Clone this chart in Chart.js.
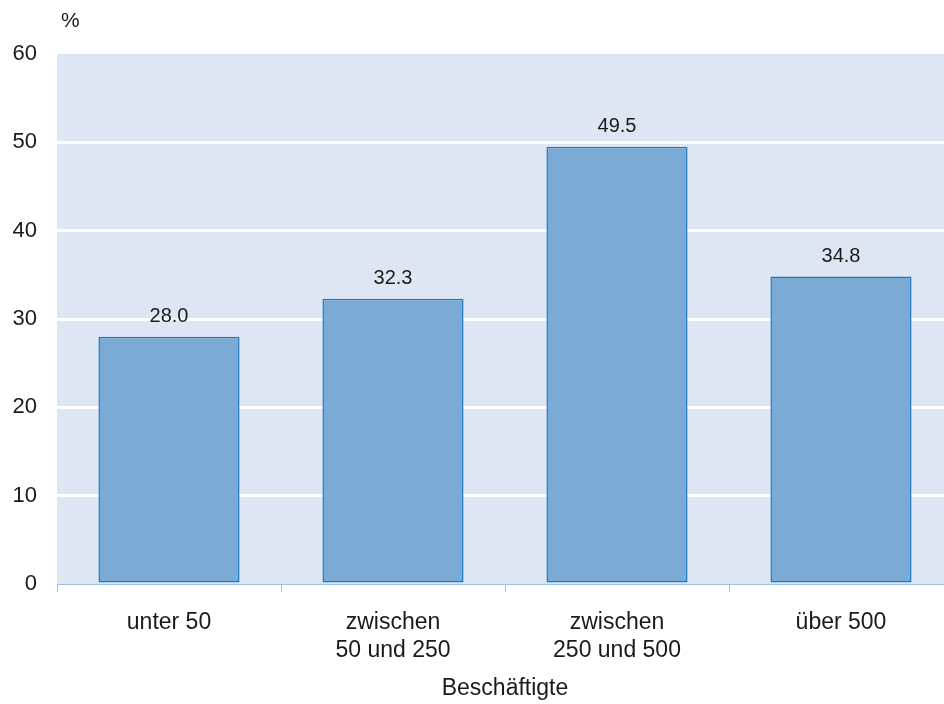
<!DOCTYPE html>
<html>
<head>
<meta charset="utf-8">
<script src="https://cdn.jsdelivr.net/npm/chart.js@4"></script>
<style>
  html, body { margin: 0; padding: 0; background: #fff; overflow: hidden; }
  #wrap { width: 944px; height: 704px; overflow: hidden; }
  canvas { display: block; }
</style>
</head>
<body>
<div id="wrap"><canvas id="chart" width="953" height="704"></canvas></div>
<script>
// data
const categories = [['unter 50'], ['zwischen', '50 und 250'], ['zwischen', '250 und 500'], ['über 500']];
const shares = [28.0, 32.3, 49.5, 34.8];
const yTicks = [0, 10, 20, 30, 40, 50, 60];
const unitLabel = '%';
const xTitle = 'Beschäftigte';

const FONT = "'Liberation Sans', Arial, sans-serif";
const TEXT = '#1a1a1a';

// light blue plot background + unit label
const backdrop = {
    id: 'backdrop',
    beforeDraw(chart) {
        const { ctx, chartArea: a } = chart;
        ctx.save();
        ctx.fillStyle = '#dfe6f3';
        ctx.fillRect(a.left, a.top, a.right - a.left, a.bottom - a.top);
        ctx.restore();
    },
    afterDraw(chart) {
        const { ctx } = chart;
        ctx.save();
        ctx.font = '21px ' + FONT;
        ctx.fillStyle = TEXT;
        ctx.textBaseline = 'middle';
        ctx.textAlign = 'left';
        ctx.fillText(unitLabel, 61, 21);
        ctx.restore();
    }
};

// values above the bars
const valueLabels = {
    id: 'valueLabels',
    afterDatasetsDraw(chart) {
        const { ctx } = chart;
        const meta = chart.getDatasetMeta(0);
        ctx.save();
        ctx.font = '20px ' + FONT;
        ctx.fillStyle = TEXT;
        ctx.textAlign = 'center';
        ctx.textBaseline = 'middle';
        meta.data.forEach((bar, i) => {
            ctx.fillText(shares[i].toFixed(1), bar.x, bar.y - 20);
        });
        ctx.restore();
    }
};

new Chart(document.getElementById('chart'), {
    type: 'bar',
    data: {
        labels: categories,
        datasets: [{
            data: shares,
            backgroundColor: '#7babd5',
            borderColor: '#1f78c1',
            borderWidth: 1.5,
            borderSkipped: false,
            barPercentage: 0.63,
            categoryPercentage: 1
        }]
    },
    options: {
        responsive: false,
        animation: false,
        layout: { padding: { top: 54, right: 0, bottom: 0, left: 0 } },
        plugins: {
            legend: { display: false },
            tooltip: { enabled: false }
        },
        scales: {
            x: {
                grid: {
                    offset: true,
                    drawOnChartArea: false,
                    drawTicks: true,
                    tickLength: 8,
                    color: '#9cc3e5'
                },
                border: { display: true, color: '#9cc3e5', width: 1 },
                ticks: {
                    color: TEXT,
                    font: { family: FONT, size: 23, lineHeight: 1.22 },
                    padding: 17,
                    maxRotation: 0
                },
                title: {
                    display: true,
                    text: xTitle,
                    color: TEXT,
                    font: { family: FONT, size: 23 },
                    padding: { top: 0, bottom: 2 }
                },
                afterFit(scale) { scale.height = 120; }
            },
            y: {
                min: 0,
                max: 60,
                afterBuildTicks(scale) { scale.ticks = yTicks.map(v => ({ value: v })); },
                grid: {
                    drawTicks: false,
                    lineWidth: 3,
                    color: ctx => (ctx.tick && (ctx.tick.value === 0 || ctx.tick.value === 60)) ? 'rgba(0,0,0,0)' : '#ffffff'
                },
                border: { display: false },
                ticks: {
                    color: TEXT,
                    font: { family: FONT, size: 22 },
                    padding: 20
                },
                afterFit(scale) { scale.width = 57; }
            }
        }
    },
    plugins: [backdrop, valueLabels]
});
</script>
</body>
</html>
